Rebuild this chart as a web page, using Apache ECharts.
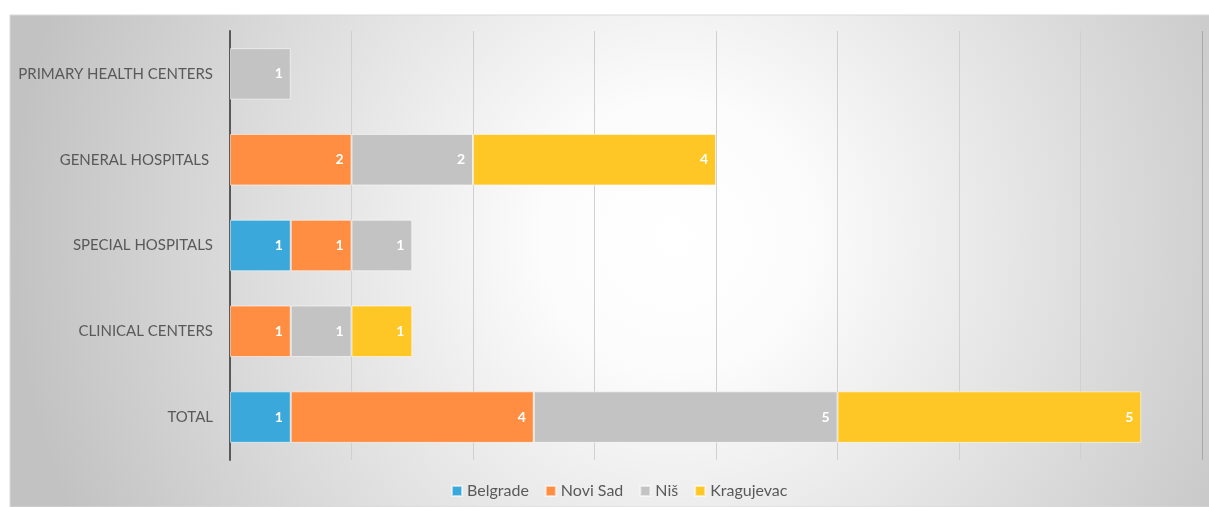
<!DOCTYPE html>
<html>
<head>
<meta charset="utf-8">
<title>Institutions by city</title>
<script src="https://cdn.jsdelivr.net/npm/echarts@6/dist/echarts.min.js"></script>
<style>
    html, body { margin: 0; padding: 0; background: #fff; }
    #chart { width: 1209px; height: 507px; }
</style>
</head>
<body>
<div id="chart"></div>
<script>
    // categories, bottom to top
    var categories = ['TOTAL', 'CLINICAL CENTERS', 'SPECIAL HOSPITALS', 'GENERAL HOSPITALS ', 'PRIMARY HEALTH CENTERS'];
    var belgrade   = [1, 0, 1, 0, 0];
    var noviSad    = [4, 1, 1, 2, 0];
    var nis        = [5, 1, 1, 2, 1];
    var kragujevac = [5, 1, 0, 4, 0];
    var axisMax = 16;

    var myChart = echarts.init(document.getElementById('chart'));

    function makeSeries(name, values, color) {
        return {
            name: name,
            type: 'bar',
            stack: 'all',
            barWidth: '60%',
            data: values.map(function (v) { return v === 0 ? '-' : v; }),
            itemStyle: { color: color, borderColor: 'rgba(255,255,255,0.55)', borderWidth: 1 },
            label: {
                show: true,
                position: 'insideRight',
                distance: 8,
                color: '#fff',
                fontWeight: 'bold',
                fontSize: 14,
                fontFamily: 'Lato'
            }
        };
    }

    var series = [
        makeSeries('Belgrade', belgrade, '#3ba8dc'),
        makeSeries('Novi Sad', noviSad, '#ff8e42'),
        makeSeries('Niš', nis, '#c3c3c3'),
        makeSeries('Kragujevac', kragujevac, '#fec726')
    ];
    // last gridline at the axis max
    series[0].markLine = {
        silent: true,
        symbol: 'none',
        label: { show: false },
        lineStyle: { color: '#a8a8a8', type: 'solid', width: 1 },
        data: [{ xAxis: axisMax }]
    };

    var option = {
        animation: false,
        textStyle: { fontFamily: 'Lato' },
        graphic: [{
            type: 'rect',
            z: -10,
            silent: true,
            shape: { x: 10, y: 15, width: 1208, height: 492 },
            style: {
                fill: {
                    type: 'radial', x: 0.55, y: 0.45, r: 1.35,
                    colorStops: [
                        { offset: 0, color: '#ffffff' },
                        { offset: 0.2, color: '#fcfcfc' },
                        { offset: 1, color: '#c2c2c2' }
                    ]
                },
                stroke: '#d9d9d9',
                lineWidth: 1
            }
        }],
        legend: {
            bottom: 3,
            left: 446,
            itemWidth: 10,
            itemHeight: 10,
            itemGap: 16,
            icon: 'rect',
            textStyle: { color: '#595959', fontSize: 16, fontFamily: 'Lato' },
            data: ['Belgrade', 'Novi Sad', 'Niš', 'Kragujevac']
        },
        grid: { left: 230, right: 7, top: 31, bottom: 47, containLabel: false },
        xAxis: {
            type: 'value',
            min: 0,
            max: axisMax,
            interval: 2,
            axisLabel: { show: false },
            axisLine: { show: false },
            axisTick: { show: false },
            splitLine: { show: true, lineStyle: { color: '#d0d0d0', width: 1 } }
        },
        yAxis: {
            type: 'category',
            data: categories,
            axisLine: { show: true, lineStyle: { color: '#595959', width: 2 } },
            axisTick: { show: false },
            axisLabel: { color: '#595959', fontSize: 15, margin: 17, fontFamily: 'Lato' }
        },
        series: series
    };
    myChart.setOption(option);
</script>
</body>
</html>
